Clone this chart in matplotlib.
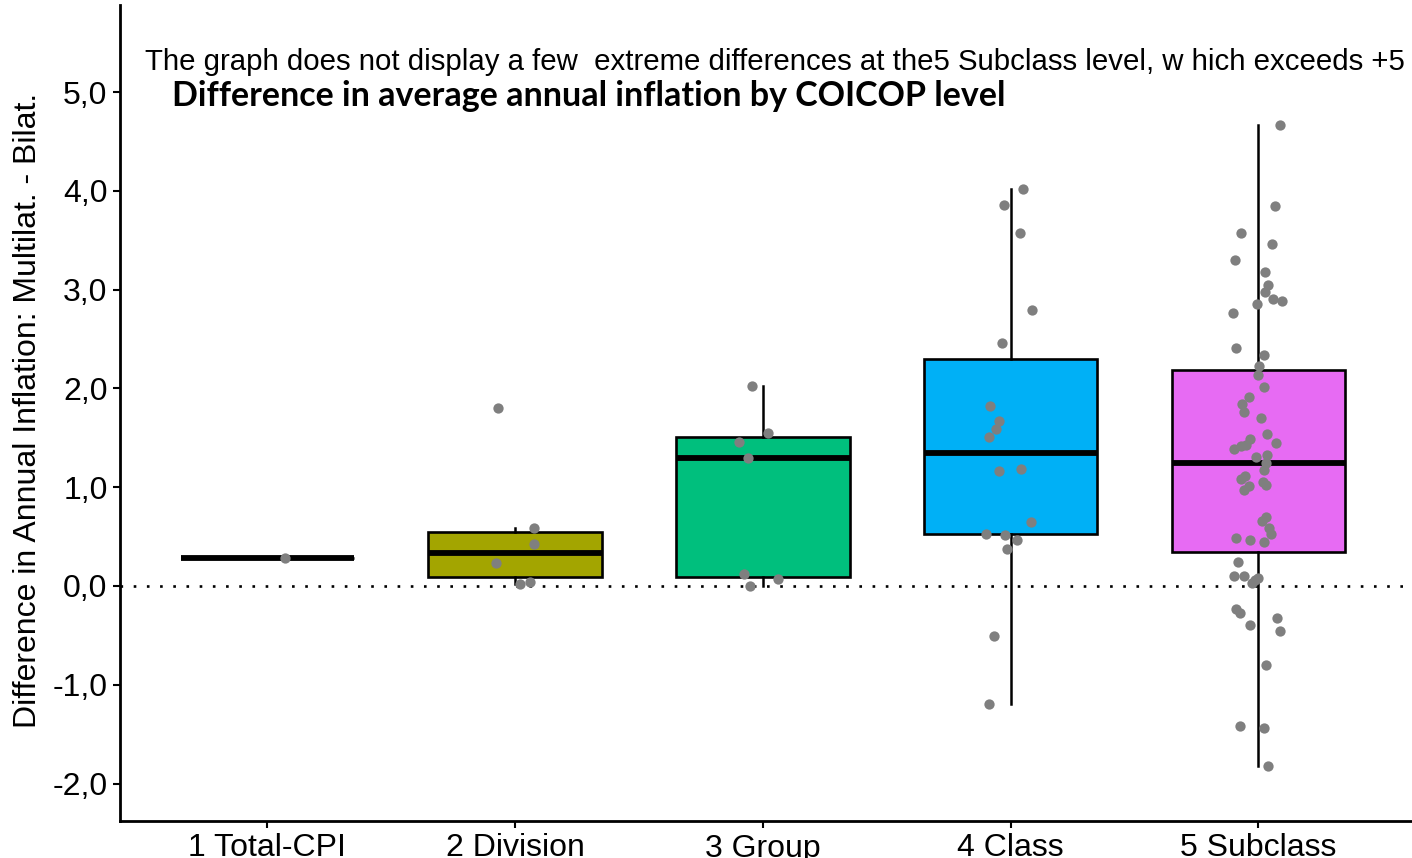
import matplotlib.pyplot as plt
import numpy as np

# COICOP levels
levels = ['1 Total-CPI', '2 Division', '3 Group', '4 Class', '5 Subclass']
box_colors = ['#F8766D', '#A3A500', '#00BF7D', '#00B0F6', '#E76BF3']

# multilateral minus bilateral difference in average annual inflation
total_cpi = [0.28]
division = [1.80, 0.59, 0.43, 0.23, 0.02, 0.04]
group = [2.02, 1.55, 1.46, 1.30, 0.12, 0.07, 0.00]
class_ = [4.02, 3.86, 3.57, 2.79, 2.46, 1.82, 1.67, 1.59, 1.51, 1.16, 1.18,
          0.65, 0.53, 0.52, 0.47, 0.37, -0.51, -1.19]
subclass = [4.67, 3.85, 3.57, 3.46, 3.30, 3.18, 3.05, 2.98, 2.90, 2.88, 2.85,
            2.76, 2.41, 2.34, 2.23, 2.14, 2.01, 1.91, 1.84, 1.76, 1.70, 1.54,
            1.45, 1.49, 1.43, 1.42, 1.39, 1.31, 1.33, 1.24, 1.17, 1.11, 1.08,
            1.05, 1.01, 0.97, 1.02, 0.70, 0.66, 0.59, 0.53, 0.49, 0.47, 0.45,
            0.24, 0.10, 0.10, 0.08, 0.03, 0.06, -0.23, -0.27, -0.39, -0.32,
            -0.46, -0.80, -1.42, -1.44, -1.82]

# horizontal jitter of the points (category units)
jitter_total = [0.07]
jitter_division = [-0.068, 0.075, 0.075, -0.079, 0.018, 0.058]
jitter_group = [-0.046, 0.022, -0.095, -0.062, -0.075, 0.062, -0.054]
jitter_class = [0.051, -0.025, 0.039, 0.087, -0.033, -0.085, -0.047, -0.060,
                -0.087, -0.048, 0.040, 0.081, -0.098, -0.023, 0.025, -0.015,
                -0.066, -0.087]
jitter_subclass = [0.086, 0.065, -0.070, 0.055, -0.094, 0.028, 0.039, 0.028,
                   0.060, 0.097, -0.006, -0.101, -0.089, 0.021, 0.004, -0.002,
                   0.023, -0.038, -0.066, -0.060, 0.012, 0.036, 0.073, -0.035,
                   -0.051, -0.070, -0.100, -0.011, 0.035, 0.032, 0.023, -0.055,
                   -0.069, 0.019, -0.039, -0.058, 0.032, 0.032, 0.015, 0.043,
                   0.050, -0.089, -0.032, 0.023, -0.081, -0.098, -0.058, -0.003,
                   -0.024, -0.012, -0.089, -0.075, -0.035, 0.077, 0.087, 0.032,
                   -0.075, 0.021, 0.040]

yticks = [-2, -1, 0, 1, 2, 3, 4, 5]
ytick_labels = ['-2,0', '-1,0', '0,0', '1,0', '2,0', '3,0', '4,0', '5,0']

data = [total_cpi, division, group, class_, subclass]
jitters = [jitter_total, jitter_division, jitter_group, jitter_class, jitter_subclass]
positions = np.arange(1, len(levels) + 1)

plt.rcParams['font.family'] = ['Liberation Sans', 'DejaVu Sans']

fig = plt.figure(figsize=(14.12, 8.58), dpi=100)
ax = fig.add_axes([120 / 1412, 1 - 821 / 858, 1 - 120 / 1412, 816 / 858])

ax.axhline(0, color='black', linewidth=1.9, linestyle=(0, (1, 4)), zorder=1)

bp = ax.boxplot(data, positions=positions, widths=0.7, patch_artist=True,
                showfliers=False, showcaps=False, whis=1.5,
                boxprops=dict(linewidth=1.9, edgecolor='black'),
                whiskerprops=dict(color='black', linewidth=1.8),
                medianprops=dict(color='black', linewidth=4.2),
                zorder=2)
for patch, c in zip(bp['boxes'], box_colors):
    patch.set_facecolor(c)

for pos, vals, jit in zip(positions, data, jitters):
    ax.scatter(pos + np.array(jit), vals, s=55, color='#7F7F7F',
               linewidths=0, zorder=3)

ax.set_xlim(0.405, 5.62)
ax.set_ylim(-2.379, 5.881)
ax.set_xticks(positions)
ax.set_xticklabels(levels, fontsize=23)
ax.set_yticks(yticks)
ax.set_yticklabels(ytick_labels, fontsize=23)
ax.tick_params(axis='both', length=5, width=1.5, pad=4, color='black')

for side in ['top', 'right']:
    ax.spines[side].set_visible(False)
for side in ['left', 'bottom']:
    ax.spines[side].set_linewidth(2)

fig.text(28 / 1412, 1 - 410 / 858,
         'Difference in Annual Inflation: Multilat. - Bilat.',
         rotation=90, ha='center', va='center', fontsize=23)

fig.text(145 / 1412, 1 - 62 / 858,
         'The graph does not display a few  extreme differences at the5 Subclass level, w hich exceeds +5',
         ha='left', va='center', fontsize=21.2)
fig.text(172 / 1412, 1 - 96 / 858,
         'Difference in average annual inflation by COICOP level',
         ha='left', va='center', fontsize=24.5, fontweight='bold',
         family=['Lato', 'DejaVu Sans'])

plt.savefig('out.png', dpi=100)
